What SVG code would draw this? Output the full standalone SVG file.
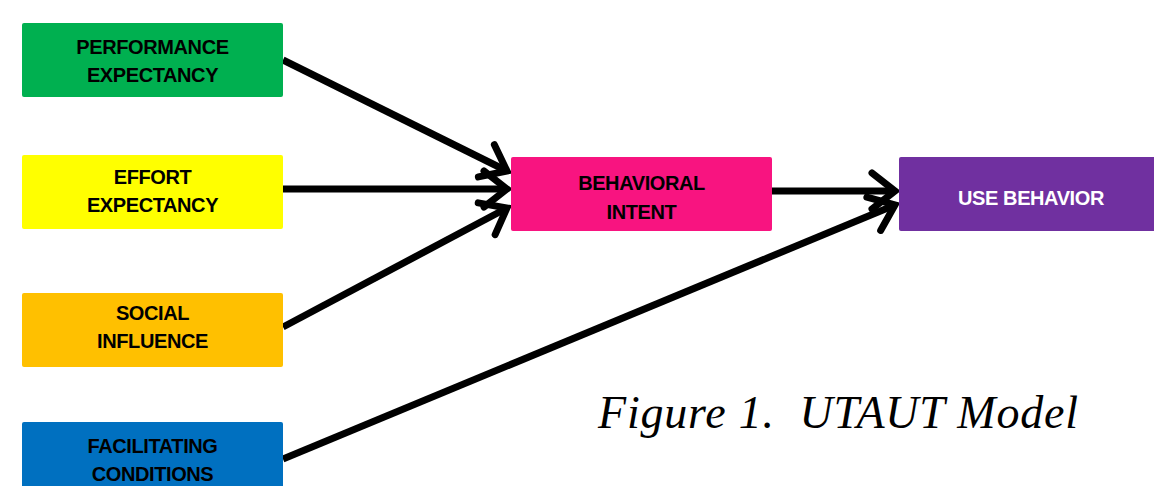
<svg xmlns="http://www.w3.org/2000/svg" width="1154" height="486" viewBox="0 0 1154 486">
<style>
.box{stroke:none}
.lbl{font-family:"Liberation Sans",Arial,sans-serif;font-weight:bold;font-size:20px;letter-spacing:-0.4px;text-anchor:middle;fill:#000}
.wl{fill:#fff}
.conn{stroke:#000;stroke-width:7;fill:none}
.cap{font-family:"Liberation Serif","Times New Roman",serif;font-style:italic;font-size:46px;fill:#000;white-space:pre}
</style>
<defs>
<marker id="ah" markerUnits="userSpaceOnUse" markerWidth="50" markerHeight="50" viewBox="0 0 50 50" refX="30" refY="25" orient="auto" overflow="visible">
<path d="M 7 7 L 30 25 L 7 43" fill="none" stroke="#000" stroke-width="7" stroke-linecap="round" stroke-linejoin="miter"/>
</marker>
</defs>
<rect width="1154" height="486" fill="#fff"/>
<g id="connectors">
<line class="conn" x1="283" y1="60" x2="507" y2="171" marker-end="url(#ah)"/>
<line class="conn" x1="283" y1="189" x2="507" y2="189" marker-end="url(#ah)"/>
<line class="conn" x1="283" y1="327" x2="507" y2="208" marker-end="url(#ah)"/>
<line class="conn" x1="772" y1="191" x2="895" y2="191" marker-end="url(#ah)"/>
<line class="conn" x1="283" y1="459" x2="895" y2="205" marker-end="url(#ah)"/>
</g>
<g id="pe"><rect class="box" x="22" y="23" width="261" height="74" rx="2" fill="#00B050"/><text class="lbl" x="152.5" y="54">PERFORMANCE</text><text class="lbl" x="152.5" y="82">EXPECTANCY</text></g>
<g id="ee"><rect class="box" x="22" y="155" width="261" height="74" rx="2" fill="#FFFF00"/><text class="lbl" x="152.5" y="184">EFFORT</text><text class="lbl" x="152.5" y="212">EXPECTANCY</text></g>
<g id="si"><rect class="box" x="22" y="293" width="261" height="74" rx="2" fill="#FFC000"/><text class="lbl" x="152.5" y="320">SOCIAL</text><text class="lbl" x="152.5" y="348">INFLUENCE</text></g>
<g id="fc"><rect class="box" x="22" y="422" width="261" height="74" rx="2" fill="#0070C0"/><text class="lbl" x="152.5" y="453">FACILITATING</text><text class="lbl" x="152.5" y="481">CONDITIONS</text></g>
<g id="bi"><rect class="box" x="511" y="157" width="261" height="74" rx="2" fill="#F81480"/><text class="lbl" x="641.5" y="190">BEHAVIORAL</text><text class="lbl" x="641.5" y="219">INTENT</text></g>
<g id="ub"><rect class="box" x="899" y="157" width="264" height="74" rx="2" fill="#7030A0"/><text class="lbl wl" x="1031" y="205">USE BEHAVIOR</text></g>
<text class="cap" x="598" y="428" xml:space="preserve" textLength="480" lengthAdjust="spacing">Figure 1.  UTAUT Model</text>
</svg>
